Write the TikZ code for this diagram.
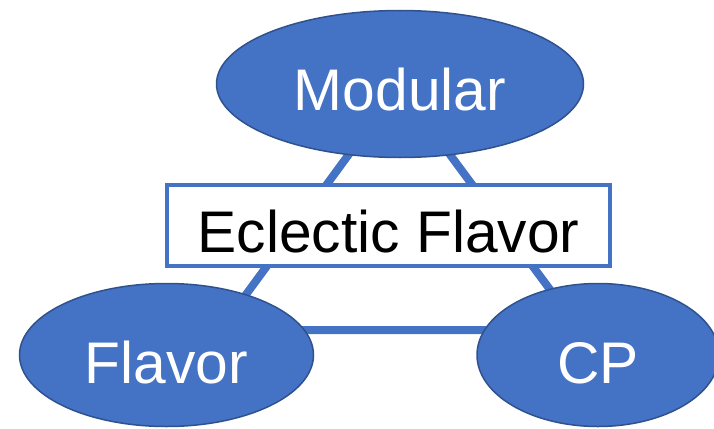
\documentclass[tikz,border=0pt]{standalone}
\usepackage{fontspec}
\setmainfont{Liberation Sans}
\usetikzlibrary{shapes.geometric}
\definecolor{officeblue}{HTML}{4472C4}
\definecolor{edgeblue}{HTML}{2F528F}
\tikzset{
  bigtext/.style={font=\fontsize{58.7}{60}\selectfont, inner sep=0pt},
  topic/.style={ellipse, bigtext, fill=officeblue, draw=edgeblue, line width=1.5pt,
    text=white, text depth=0pt},
  titlebox/.style={rectangle, bigtext, fill=white, draw=officeblue, line width=4pt,
    text=black, text depth=0pt, minimum width=443pt, minimum height=81pt},
  tri/.style={draw=officeblue, line width=8pt, line join=miter}
}
\begin{document}
\begin{tikzpicture}[x=1pt,y=-1pt]
  \useasboundingbox (0,0) rectangle (714,428);
  % triangle joining the three topics
  \coordinate (apex) at (399,86);
  \coordinate (baseL) at (220,330);
  \coordinate (baseR) at (580,330);
  \draw[tri] (apex) -- (baseL) -- (baseR) -- cycle;
  % topics
  \node[topic, minimum width=367pt, minimum height=147pt, text height=52pt] (modular) at (400,84) {Modular};
  \node[topic, minimum width=294pt, minimum height=143pt, text height=56pt] (flavor) at (166.5,355) {Flavor};
  \node[topic, minimum width=242pt, minimum height=143pt, text height=56pt] (cp) at (598,355) {CP};
  % central label
  \node[titlebox, text height=53pt] (eclectic) at (388.5,225.5) {Eclectic Flavor};
\end{tikzpicture}
\end{document}
